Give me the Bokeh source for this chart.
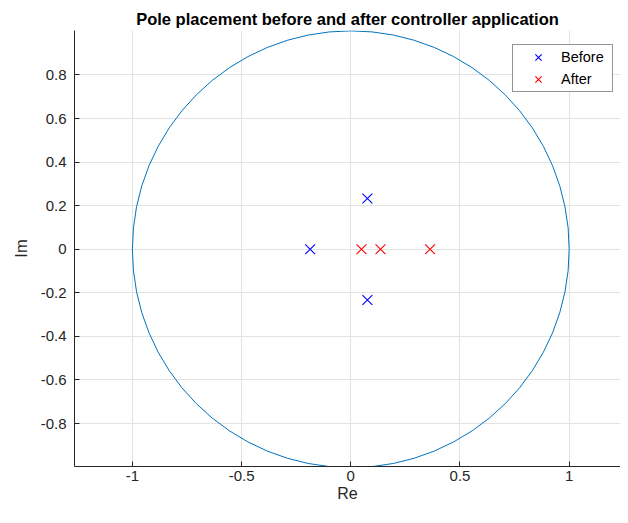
from bokeh.plotting import figure
from bokeh.models import Range1d, Legend, LegendItem
from bokeh.embed import file_html
from bokeh.resources import INLINE

# ---- data ----
before_re = [-0.186, 0.076, 0.076]
before_im = [0.0, 0.233, -0.233]
after_re = [0.049, 0.136, 0.363]
after_im = [0.0, 0.0, 0.0]

circle_center_re = [0.0]
circle_center_im = [0.0]
circle_radius = [1.0]

x_ticks = [-1, -0.5, 0, 0.5, 1]
x_tick_labels = ["-1", "-0.5", "0", "0.5", "1"]
y_ticks = [-0.8, -0.6, -0.4, -0.2, 0, 0.2, 0.4, 0.6, 0.8]
y_tick_labels = ["-0.8", "-0.6", "-0.4", "-0.2", "0", "0.2", "0.4", "0.6", "0.8"]

FONT = "Liberation Sans"
DARK = "#262626"

p = figure(
    frame_width=546, frame_height=436,
    min_border_left=74, min_border_right=0, min_border_top=30, min_border_bottom=41,
    x_range=Range1d(-1.265, 1.235), y_range=Range1d(-0.997, 1.004),
    output_backend="svg", toolbar_location=None,
    title="Pole placement before and after controller application",
)
p.background_fill_color = "white"
p.border_fill_color = "white"
p.outline_line_color = None

p.title.text_font = FONT
p.title.text_font_size = "16.5px"
p.title.text_font_style = "bold"
p.title.align = "center"
p.title.text_color = "black"
p.title.standoff = 6

# unit circle
p.circle(x=circle_center_re, y=circle_center_im, radius=circle_radius,
         fill_color=None, line_color="#0072bd", line_width=1)

r_before = p.scatter(before_re, before_im, marker="x", size=14, line_color="#0000ff", line_width=1.1)
r_after = p.scatter(after_re, after_im, marker="x", size=14, line_color="#ff0000", line_width=1.1)

for ax, ticks, labels in ((p.xaxis, x_ticks, x_tick_labels), (p.yaxis, y_ticks, y_tick_labels)):
    ax.ticker = ticks
    ax.major_label_overrides = {t: l for t, l in zip(ticks, labels)}
    ax.axis_line_color = DARK
    ax.axis_line_width = 1
    ax.major_tick_line_color = DARK
    ax.major_tick_in = 5
    ax.major_tick_out = 0
    ax.minor_tick_line_color = None
    ax.major_label_text_font = FONT
    ax.major_label_text_font_size = "15px"
    ax.major_label_text_color = DARK
    ax.axis_label_text_font = FONT
    ax.axis_label_text_font_style = "normal"
    ax.axis_label_text_color = DARK

p.xaxis.axis_label = "Re"
p.yaxis.axis_label = "Im"
p.xaxis.axis_label_text_font_size = "16px"
p.yaxis.axis_label_text_font_size = "16.5px"
p.xaxis.major_label_standoff = 4
p.xaxis.axis_label_standoff = 1
p.yaxis.major_label_standoff = 8
p.yaxis.axis_label_standoff = 8

p.grid.grid_line_color = "#e3e3e3"
p.grid.grid_line_width = 1

legend = Legend(
    items=[LegendItem(label="Before", renderers=[r_before]),
           LegendItem(label="After", renderers=[r_after])],
    location=(438, 374),
    padding=(2, 1), spacing=0, margin=0,
    glyph_width=46, glyph_height=22, label_height=22, label_width=49, label_standoff=0,
    label_text_font=FONT, label_text_font_size="14.5px", label_text_color="black",
    border_line_color=DARK, border_line_width=1,
    background_fill_color="white", background_fill_alpha=1,
)
p.add_layout(legend)

open("out.html", "w").write(file_html(p, INLINE))
